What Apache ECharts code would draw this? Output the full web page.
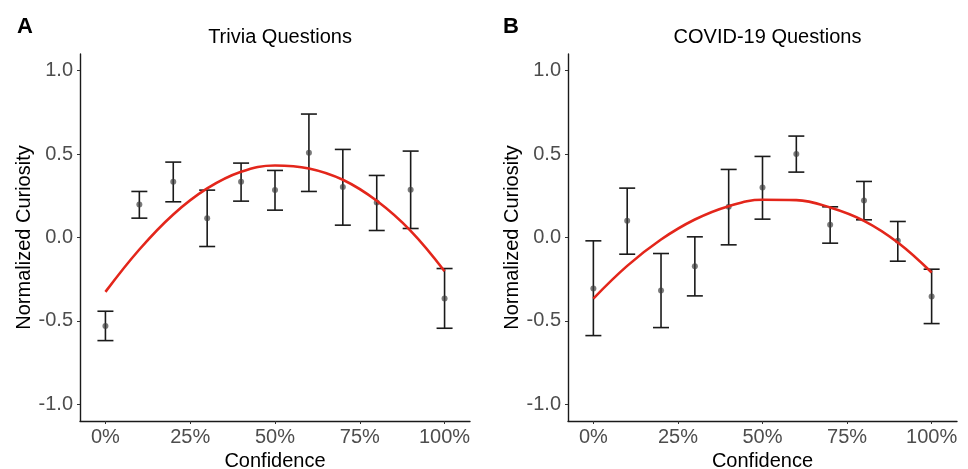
<!DOCTYPE html>
<html>
<head>
<meta charset="utf-8">
<script src="https://cdn.jsdelivr.net/npm/echarts@6/dist/echarts.min.js"></script>
<style>
  html, body { margin: 0; padding: 0; background: #fff; }
  #main { width: 968px; height: 469px; }
</style>
</head>
<body>
<div id="main"></div>
<script>
// confidence levels (%)
var confidence = [0, 10, 20, 30, 40, 50, 60, 70, 80, 90, 100];

// Trivia questions: mean curiosity with error bar limits
var triviaMean = [-0.53, 0.198, 0.334, 0.116, 0.334, 0.284, 0.508, 0.302, 0.21, 0.286, -0.366];
var triviaLow  = [-0.618, 0.116, 0.214, -0.054, 0.218, 0.164, 0.276, 0.074, 0.042, 0.054, -0.544];
var triviaHigh = [-0.442, 0.276, 0.452, 0.284, 0.446, 0.402, 0.74, 0.528, 0.372, 0.518, -0.186];
// red fitted curve, read at each confidence level
var triviaFit  = [-0.326, -0.072, 0.138, 0.294, 0.394, 0.432, 0.414, 0.346, 0.22, 0.04, -0.202];

// COVID-19 questions
var covidMean = [-0.306, 0.1, -0.318, -0.172, 0.184, 0.3, 0.5, 0.076, 0.222, -0.02, -0.354];
var covidLow  = [-0.588, -0.1, -0.54, -0.35, -0.044, 0.11, 0.392, -0.034, 0.106, -0.142, -0.516];
var covidHigh = [-0.02, 0.296, -0.096, 0.004, 0.408, 0.486, 0.608, 0.184, 0.336, 0.096, -0.19];
var covidFit  = [-0.366, -0.17, -0.012, 0.108, 0.188, 0.226, 0.224, 0.18, 0.1, -0.03, -0.21];

var xTicks = [0, 25, 50, 75, 100];
var yTicks = [-1, -0.5, 0, 0.5, 1];
var panelTitles = ['Trivia Questions', 'COVID-19 Questions'];
var panelLetters = ['A', 'B'];

var FONT = '"Liberation Sans", Arial, Helvetica, sans-serif';
var grids = [
    {left: 80, top: 54, width: 390, height: 367, outerBoundsMode: 'none'},
    {left: 568, top: 54, width: 389, height: 367, outerBoundsMode: 'none'}
];

function pairs(ys) {
    return confidence.map(function (c, i) { return [c, ys[i]]; });
}
function bars(lo, hi) {
    return confidence.map(function (c, i) { return [c, lo[i], hi[i]]; });
}

function renderErrorBar(params, api) {
    var x = api.value(0);
    var lo = api.coord([x, api.value(1)]);
    var hi = api.coord([x, api.value(2)]);
    var w = 8;
    var st = {stroke: '#1a1a1a', lineWidth: 1.6};
    return {
        type: 'group',
        children: [
            {type: 'line', shape: {x1: lo[0], y1: lo[1], x2: hi[0], y2: hi[1]}, style: st},
            {type: 'line', shape: {x1: lo[0] - w, y1: lo[1], x2: lo[0] + w, y2: lo[1]}, style: st},
            {type: 'line', shape: {x1: hi[0] - w, y1: hi[1], x2: hi[0] + w, y2: hi[1]}, style: st}
        ]
    };
}

function xAxisFor(i) {
    return {
        type: 'value', gridIndex: i, min: -7.5, max: 107.5,
        name: 'Confidence', nameLocation: 'middle', nameGap: 29,
        nameTextStyle: {color: '#000', fontSize: 20, fontFamily: FONT},
        axisLine: {show: true, onZero: false, lineStyle: {color: '#1a1a1a', width: 1.4}},
        axisTick: {show: true, length: 3, customValues: xTicks, lineStyle: {color: '#333'}},
        axisLabel: {customValues: xTicks, margin: 6, color: '#4d4d4d', fontSize: 20, fontFamily: FONT,
            formatter: function (v) { return v + '%'; }},
        splitLine: {show: false}
    };
}
function yAxisFor(i) {
    return {
        type: 'value', gridIndex: i, min: -1.1, max: 1.1,
        name: 'Normalized Curiosity', nameLocation: 'middle', nameGap: 45,
        nameTextStyle: {color: '#000', fontSize: 20, fontFamily: FONT},
        axisLine: {show: true, onZero: false, lineStyle: {color: '#1a1a1a', width: 1.4}},
        axisTick: {show: true, length: 3, customValues: yTicks, lineStyle: {color: '#333'}},
        axisLabel: {customValues: yTicks, margin: 7, color: '#4d4d4d', fontSize: 20, fontFamily: FONT,
            formatter: function (v) { return v.toFixed(1); }},
        splitLine: {show: false}
    };
}

var panels = [
    {mean: triviaMean, lo: triviaLow, hi: triviaHigh, fit: triviaFit},
    {mean: covidMean, lo: covidLow, hi: covidHigh, fit: covidFit}
];

var series = [];
panels.forEach(function (p, i) {
    series.push({
        type: 'custom', xAxisIndex: i, yAxisIndex: i, z: 2,
        renderItem: renderErrorBar,
        encode: {x: 0, y: [1, 2]},
        data: bars(p.lo, p.hi)
    });
    series.push({
        type: 'scatter', xAxisIndex: i, yAxisIndex: i, z: 3,
        symbolSize: 6,
        itemStyle: {color: 'rgba(60,60,60,0.85)'},
        data: pairs(p.mean)
    });
    series.push({
        type: 'line', xAxisIndex: i, yAxisIndex: i, z: 4,
        smooth: 0.4, showSymbol: false,
        lineStyle: {color: '#e3261b', width: 2.6},
        data: pairs(p.fit)
    });
});

var titles = [];
panelTitles.forEach(function (t, i) {
    titles.push({
        text: t, left: grids[i].left + grids[i].width / 2, top: 22, textAlign: 'center',
        textStyle: {color: '#000', fontSize: 20, fontWeight: 'normal', fontFamily: FONT}
    });
});
panelLetters.forEach(function (t, i) {
    titles.push({
        text: t, left: i === 0 ? 12 : 498, top: 11,
        textStyle: {color: '#000', fontSize: 22, fontWeight: 'bold', fontFamily: FONT}
    });
});

var chart = echarts.init(document.getElementById('main'));
chart.setOption({
    animation: false,
    backgroundColor: '#fff',
    title: titles,
    grid: grids,
    xAxis: [xAxisFor(0), xAxisFor(1)],
    yAxis: [yAxisFor(0), yAxisFor(1)],
    series: series
});
</script>
</body>
</html>
